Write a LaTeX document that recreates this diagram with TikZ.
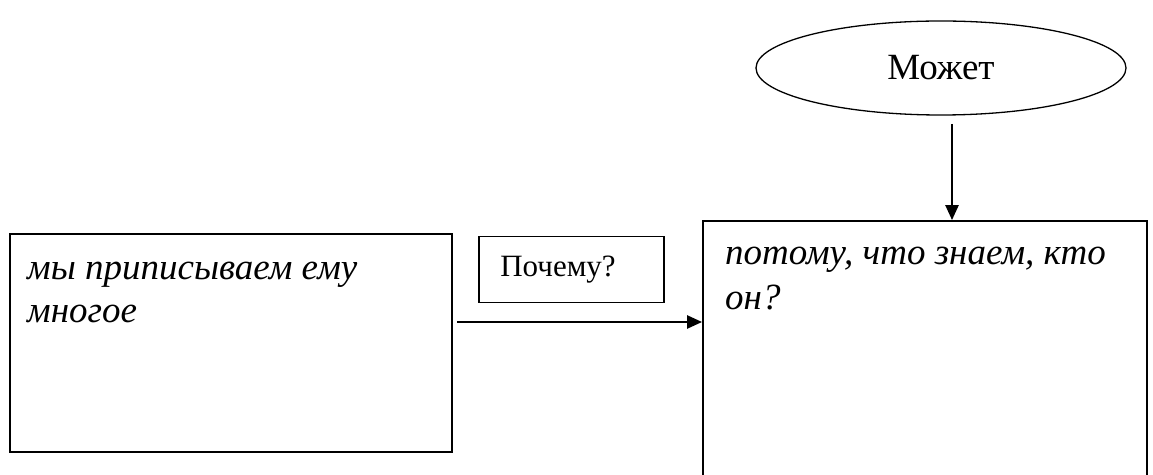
\documentclass[tikz,border=0pt]{standalone}
\usepackage{fontspec}
\setmainfont{Liberation Serif}
\usetikzlibrary{shapes.geometric,arrows.meta}
\begin{document}
\begin{tikzpicture}[x=1pt,y=1pt,
  boxstyle/.style={draw,line width=1.8pt,rectangle,inner sep=0pt},
  txt/.style={inner sep=0pt,font=\fontsize{37}{44}\selectfont\itshape},
  conn/.style={line width=2.4pt,-{Triangle[length=15pt,width=13pt]}}]
\useasboundingbox (0,0) rectangle (1153,474);
\fill[white] (0,0) rectangle (1153,474);
% left box
\node[boxstyle,minimum width=442pt,minimum height=218pt] (L) at (231,131) {};
\node[txt,anchor=base west] (t1) at (27,194) {мы приписываем ему};
\node[txt,anchor=base west] (t2) at (27,151) {многое};
% question box
\node[boxstyle,minimum width=185pt,minimum height=66pt,font=\fontsize{31}{36}\selectfont] (Q) at (571.5,204.5) {\hspace*{-27pt}Почему?};
% right box
\node[boxstyle,minimum width=444pt,minimum height=270pt] (R) at (925,118) {};
\node[txt,anchor=base west] (t3) at (725,209) {потому, что знаем, кто};
\node[txt,anchor=base west] (t4) at (725,164) {он?};
% ellipse
\node[draw,line width=1.3pt,ellipse,minimum width=370pt,minimum height=94pt,inner sep=0pt,font=\fontsize{37}{44}\selectfont] (E) at (941,406) {Может};
% connectors
\coordinate (a1) at (952,350);
\draw[conn] (a1) -- (a1 |- R.north);
\coordinate (a2) at (457,152);
\draw[conn] (a2) -- (a2 -| R.west);
\end{tikzpicture}
\end{document}
